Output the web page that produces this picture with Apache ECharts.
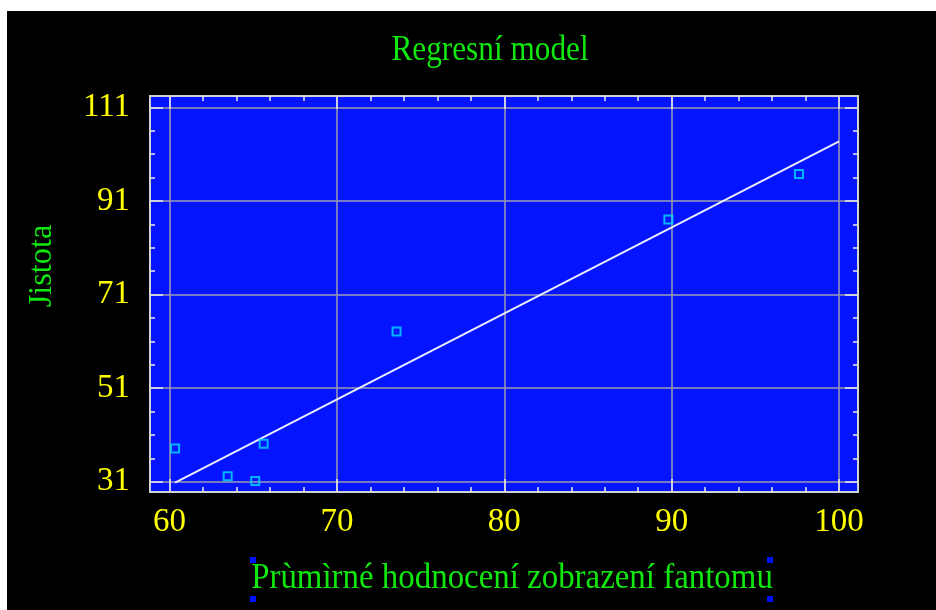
<!DOCTYPE html>
<html>
<head>
<meta charset="utf-8">
<script src="https://cdn.jsdelivr.net/npm/echarts@6/dist/echarts.min.js"></script>
<style>
  html, body { margin: 0; padding: 0; background: #ffffff; width: 936px; height: 610px; overflow: hidden; }
  #c { position: absolute; left: 7px; top: 11px; width: 929px; height: 599px; background: #000000; }
</style>
</head>
<body>
<div id="c"></div>
<script>
// ---- data ----
const chartTitle = 'Regresní model';
const xTitle = 'Prùmìrné hodnocení zobrazení fantomu';
const yTitle = 'Jistota';

const xMajorTicks = [60, 70, 80, 90, 100];
const xMinorTicks = [62, 64, 66, 68, 72, 74, 76, 78, 82, 84, 86, 88, 92, 94, 96, 98];
const yMajorTicks = [31, 51, 71, 91, 111];
const yMinorTicks = [36, 41, 46, 56, 61, 66, 76, 81, 86, 96, 101, 106];

const pointsX = [60.33, 63.47, 65.12, 65.62, 73.56, 89.8, 97.6];
const pointsY = [38.1, 32.15, 31.15, 39.1, 63.1, 87.0, 96.75];

const fitX = [60.33, 100];
const fitY = [30.8, 103.7];

const xRange = [58.83, 101.13];
const yRange = [28.8, 113.41];

// ---- styles ----
const FONT = '"Liberation Serif", "DejaVu Serif", serif';
const GREEN = '#10e810';
const YELLOW = '#ffff00';
const BLUE = '#0414ff';
const GRIDLINE = '#9c9cac';
const TICK = '#ececec';

const scatterData = pointsX.map((x, i) => [x, pointsY[i]]);
const fitData = fitX.map((x, i) => [x, fitY[i]]);

function xAxisDef(position, ticks, len, major) {
  return {
    type: 'value', gridIndex: 0, position: position,
    min: xRange[0], max: xRange[1],
    axisLine: { show: false, onZero: false },
    axisTick: { show: true, inside: true, length: len, customValues: ticks,
                lineStyle: { color: TICK, width: 1.5 } },
    axisLabel: (major && position === 'bottom') ? {
      show: true, customValues: ticks, color: YELLOW, fontFamily: FONT, fontSize: 33, margin: 14
    } : { show: false },
    splitLine: (major && position === 'bottom') ? { show: true, lineStyle: { color: GRIDLINE, width: 1.5 } } : { show: false },
    minorTick: { show: false }
  };
}
function yAxisDef(position, ticks, len, major) {
  return {
    type: 'value', gridIndex: 0, position: position,
    min: yRange[0], max: yRange[1],
    axisLine: { show: false, onZero: false },
    axisTick: { show: true, inside: true, length: len, customValues: ticks,
                lineStyle: { color: TICK, width: 1.5 } },
    axisLabel: (major && position === 'left') ? {
      show: true, customValues: ticks, color: YELLOW, fontFamily: FONT, fontSize: 33, margin: 20
    } : { show: false },
    splitLine: (major && position === 'left') ? { show: true, lineStyle: { color: GRIDLINE, width: 1.5 } } : { show: false },
    minorTick: { show: false }
  };
}

const chart = echarts.init(document.getElementById('c'), null, { renderer: 'canvas' });
chart.setOption({
  animation: false,
  backgroundColor: '#000000',
  grid: {
    left: 143, top: 85, right: 78, bottom: 118,
    show: true, backgroundColor: BLUE, borderColor: '#d2d2d2', borderWidth: 2
  },
  xAxis: [
    xAxisDef('bottom', xMajorTicks, 13, true),
    xAxisDef('bottom', xMinorTicks, 5, false),
    xAxisDef('top', xMajorTicks, 13, false),
    xAxisDef('top', xMinorTicks, 5, false)
  ],
  yAxis: [
    yAxisDef('left', yMajorTicks, 13, true),
    yAxisDef('left', yMinorTicks, 5, false),
    yAxisDef('right', yMajorTicks, 13, false),
    yAxisDef('right', yMinorTicks, 5, false)
  ],
  graphic: [
    { type: 'text', position: [483, 40], scaleX: 0.92, scaleY: 1.05, style: {
        text: chartTitle, font: '34px ' + FONT, fill: GREEN,
        textAlign: 'center', textVerticalAlign: 'middle' } },
    { type: 'text', position: [35, 255], rotation: Math.PI / 2, scaleX: 0.95, style: {
        text: yTitle, font: '34px ' + FONT, fill: GREEN,
        textAlign: 'center', textVerticalAlign: 'middle' } },
    { type: 'text', position: [505, 567], scaleX: 0.94, scaleY: 1.05, style: {
        text: xTitle, font: '35px ' + FONT, fill: GREEN,
        textAlign: 'center', textVerticalAlign: 'middle' } },
    { type: 'rect', shape: { x: 243, y: 546, width: 6, height: 6 }, style: { fill: '#0010ff' } },
    { type: 'rect', shape: { x: 760, y: 546, width: 6, height: 6 }, style: { fill: '#0010ff' } },
    { type: 'rect', shape: { x: 243, y: 585, width: 6, height: 6 }, style: { fill: '#0010ff' } },
    { type: 'rect', shape: { x: 760, y: 585, width: 6, height: 6 }, style: { fill: '#0010ff' } }
  ],
  series: [
    {
      type: 'line', xAxisIndex: 0, yAxisIndex: 0, data: fitData,
      showSymbol: false, symbol: 'none',
      lineStyle: { color: '#ececff', width: 2 }, z: 2
    },
    {
      type: 'scatter', xAxisIndex: 0, yAxisIndex: 0, data: scatterData,
      symbol: 'rect', symbolSize: 8,
      itemStyle: { color: 'rgba(0,0,0,0)', borderColor: '#00dcff', borderWidth: 2 }, z: 3
    }
  ]
});
</script>
</body>
</html>
